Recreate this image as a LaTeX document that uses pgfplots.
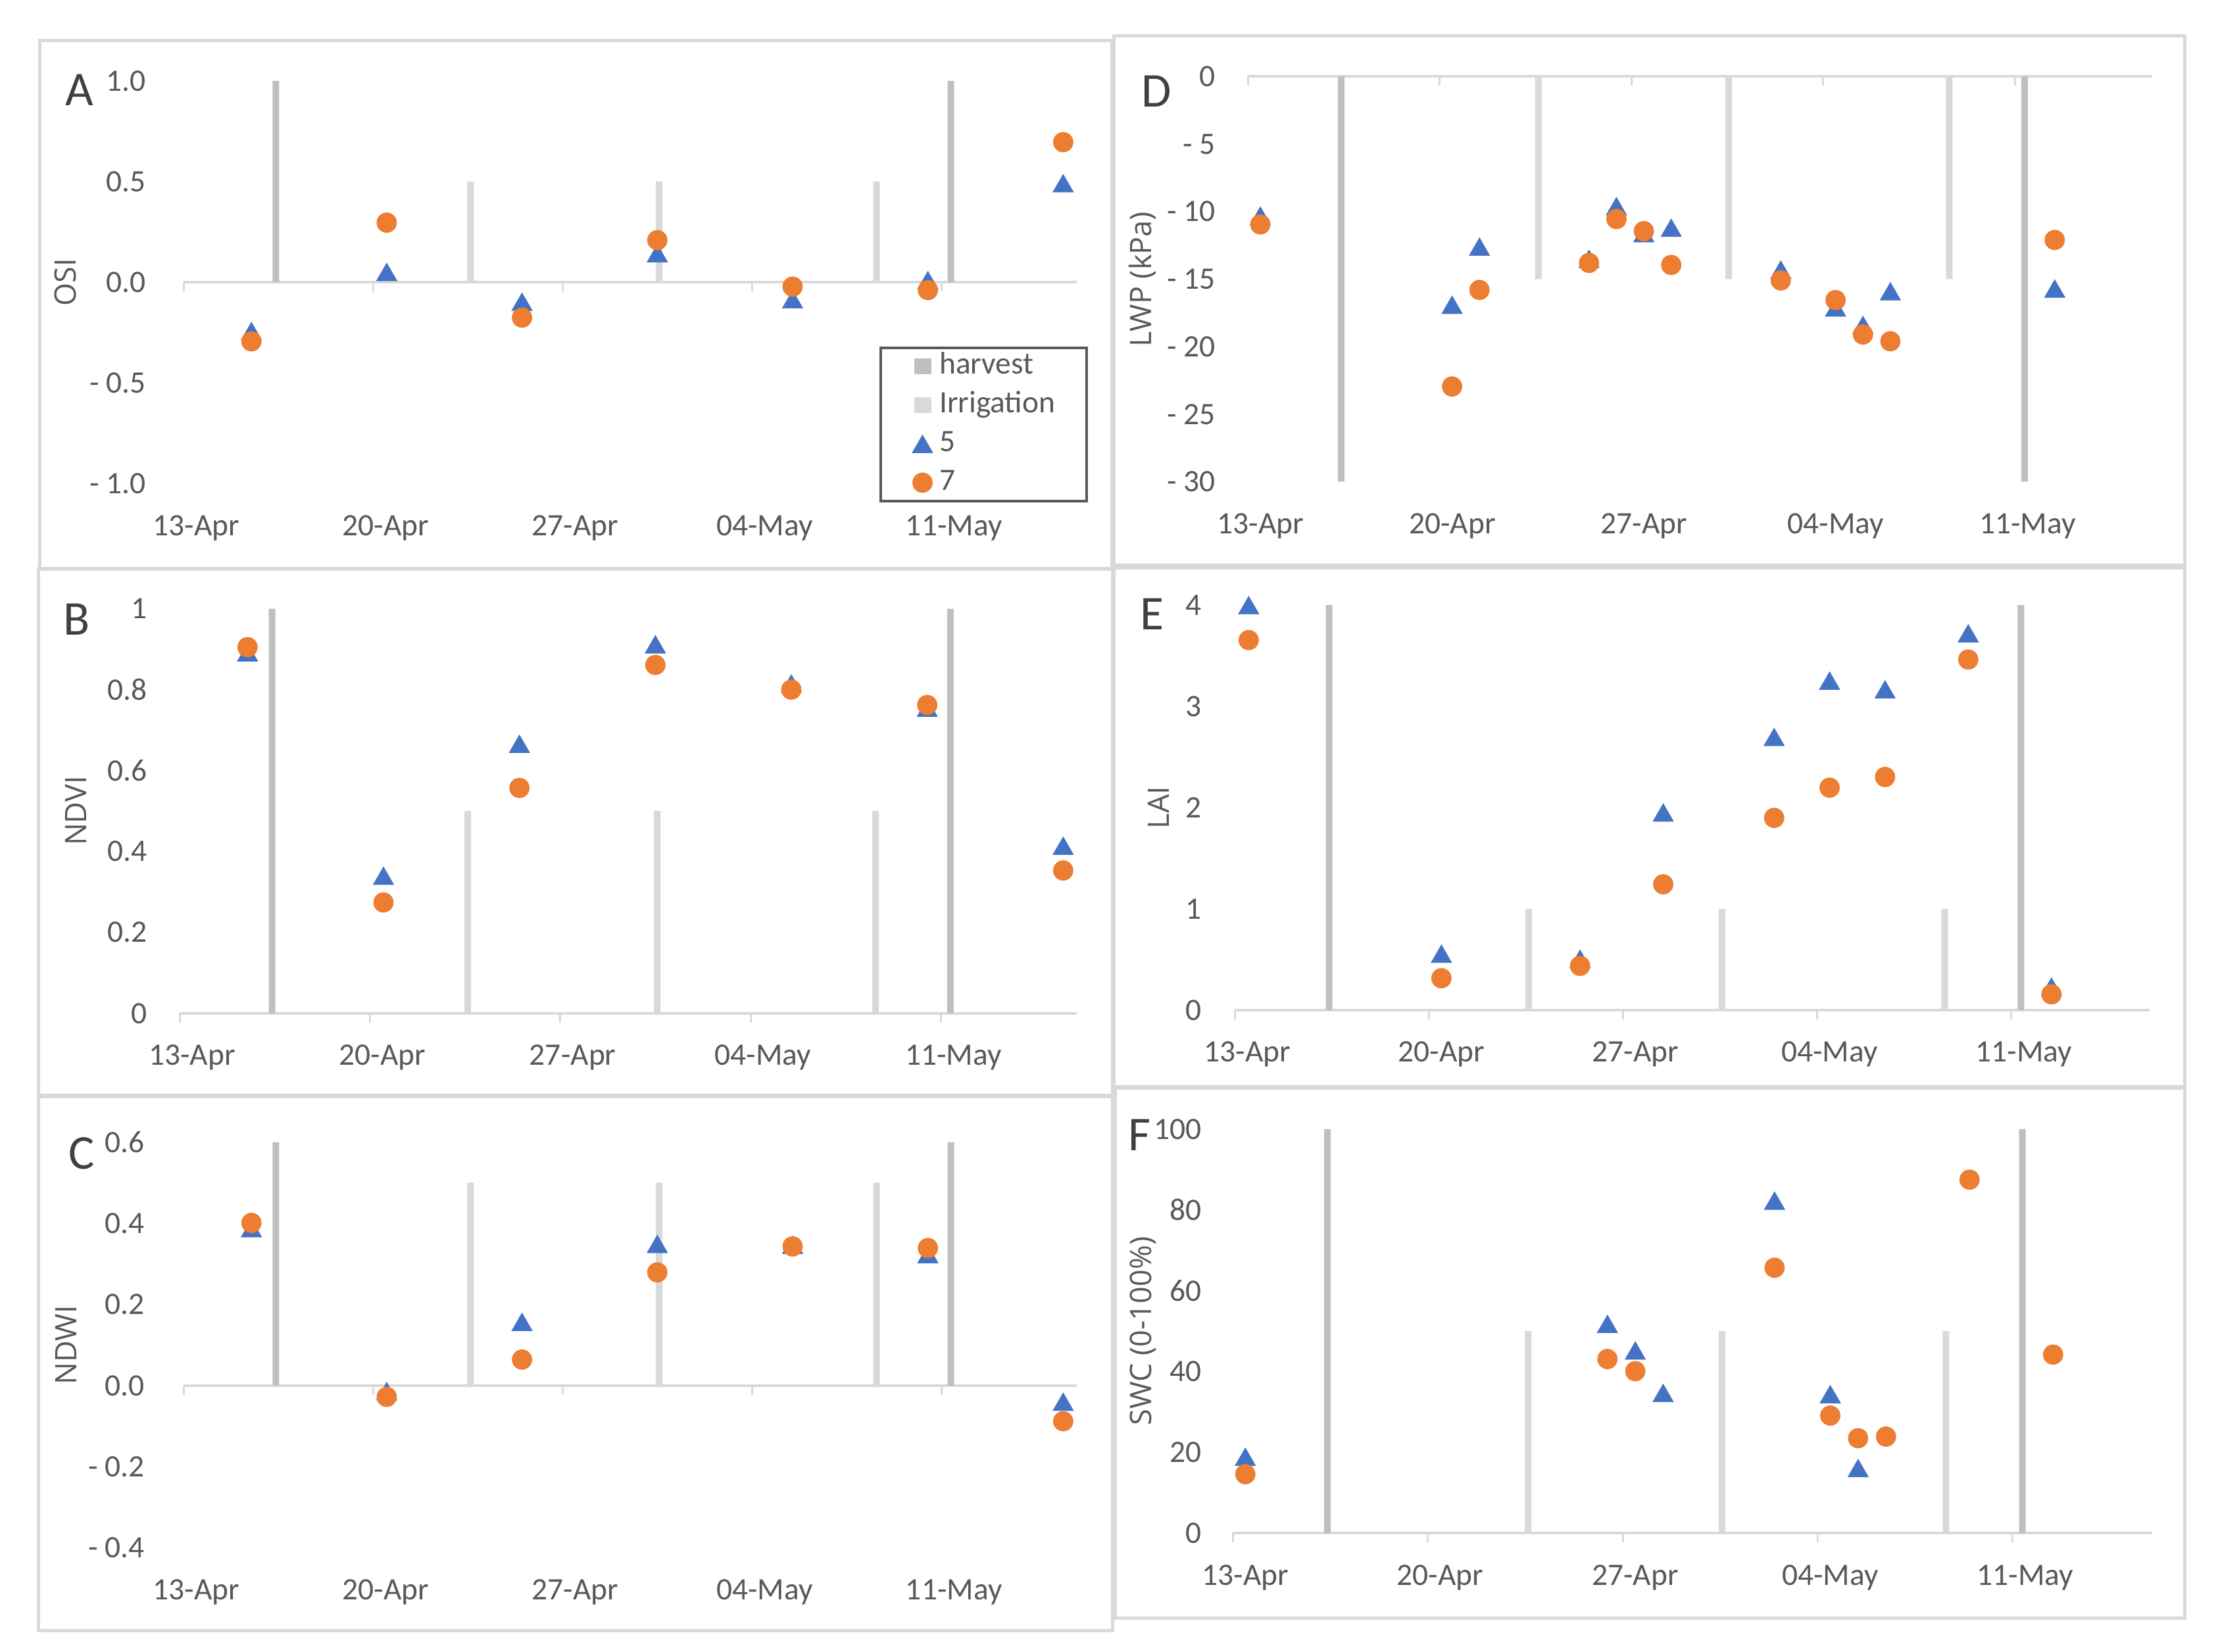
\documentclass[border=0pt]{standalone}
\usepackage{fontspec}
\setmainfont{Carlito}
\newfontfamily\labfont{Open Sans}
\usepackage{pgfplots}
\pgfplotsset{compat=1.18}

\definecolor{tickc}{HTML}{595959}
\definecolor{axc}{HTML}{D9D9D9}
\definecolor{harvc}{HTML}{BFBFBF}
\definecolor{irrc}{HTML}{D9D9D9}
\definecolor{blue5}{HTML}{4472C4}
\definecolor{orange7}{HTML}{ED7D31}
\definecolor{boxc}{HTML}{D9D9D9}
\definecolor{legc}{HTML}{595959}
\definecolor{letc}{HTML}{404040}

\newcommand\tickfont{\fontsize{13.5pt}{16pt}\selectfont}
\newcommand\letfont{\fontsize{21pt}{25pt}\selectfont}

% 1 px of the reference = 0.01cm
\pgfplotsset{
  panel/.style={scale only axis, clip=false, xmin=0, xmax=33,
    axis line style={draw=none}, tick style={draw=none},
    xtick={0,7,14,21,28}, xticklabels={13-Apr,20-Apr,27-Apr,04-May,11-May},
    xticklabel style={anchor=base, yshift=-0.79cm, xshift=0.19cm, font=\tickfont, text=tickc},
    yticklabel style={anchor=east, inner sep=0pt, font=\tickfont, text=tickc},
    ylabel style={anchor=center, font=\labfont\fontsize{12.8pt}{15pt}\selectfont, text=tickc},
  },
  harv/.style={ybar, bar width=0.1cm, fill=harvc, draw=none},
  irr/.style={ybar, bar width=0.1cm, fill=irrc, draw=none},
  s5/.style={only marks, color=blue5, mark=triangle*, mark size=0.18cm,
    mark options={solid, fill=blue5, line width=0.2pt, yshift=-0.045cm}},
  s7/.style={only marks, color=orange7, mark=*, mark size=0.15cm,
    mark options={solid, fill=orange7, line width=0.2pt}},
  sqleg/.style={legend image code/.code={\fill[#1] (0cm,-0.12cm) rectangle (0.26cm,0.12cm);}},
  mkleg/.style={legend image code/.code={\draw[##1] plot coordinates {(0.13cm,0cm)};}},
}

% axis line at y=0 with short ticks below it
\newcommand\zeroline{%
  \draw[axc, line width=0.04cm] (axis cs:0,0) -- (axis cs:33,0);
  \pgfplotsinvokeforeach{0,7,14,21,28}{\draw[axc, line width=0.03cm]
    (axis cs:##1,0) -- ([yshift=-0.14cm]axis cs:##1,0);}
}

\begin{document}
\begin{tikzpicture}
\fill[white] (0,0) rectangle (33.72,25.12);

% panel frames
\draw[boxc, line width=0.05cm] (0.60,16.46) rectangle (16.90,24.50);
\draw[boxc, line width=0.05cm] (0.58,8.46) rectangle (16.91,16.47);
\draw[boxc, line width=0.05cm] (0.58,0.32) rectangle (16.91,8.44);
\draw[boxc, line width=0.05cm] (16.93,16.52) rectangle (33.21,24.57);
\draw[boxc, line width=0.05cm] (16.93,8.59) rectangle (33.21,16.48);
\draw[boxc, line width=0.05cm] (16.95,0.51) rectangle (33.21,8.57);

% A: OSI
\begin{axis}[panel, at={(2.794cm,17.769cm)}, anchor=south west, width=13.575cm, height=6.119cm,
  ymin=-1, ymax=1, ytick={-1,-0.5,0,0.5,1}, yticklabels={- 1.0,- 0.5,0.0,0.5,1.0},
  yticklabel style={xshift=-0.57cm},
  ylabel={OSI}, ylabel style={at={(axis description cs:-0.1326,0.5)}},
  legend cell align=left,
  legend style={at={(axis description cs:0.7790,0.3401)}, anchor=north west,
    draw=legc, line width=0.04cm, fill=white, font=\tickfont,
    inner xsep=0.48cm, inner ysep=0.04cm, row sep=0.11cm, column sep=0.10cm,
    nodes={inner xsep=0pt, inner ysep=0pt, text height=0.36cm, text depth=0.12cm, text=tickc}}]
\zeroline
\addplot[harv, sqleg=harvc] coordinates {(3.4,1)(28.35,1)};
\addlegendentry{harvest}
\addplot[irr, sqleg=irrc] coordinates {(10.6,0.5)(17.57,0.5)(25.6,0.5)};
\addlegendentry{Irrigation}
\addplot[s5, mkleg]
  coordinates {(2.5,-0.243)(7.5,0.051)(12.5,-0.097)(17.5,0.144)(22.5,-0.085)(27.5,0.010)(32.5,0.492)};
\addlegendentry{5}
\addplot[s7, mkleg]
  coordinates {(2.5,-0.294)(7.5,0.296)(12.5,-0.176)(17.5,0.209)(22.5,-0.022)(27.5,-0.039)(32.5,0.696)};
\addlegendentry{7}
\end{axis}

% B: NDVI
\begin{axis}[panel, at={(2.73cm,9.712cm)}, anchor=south west, width=13.64cm, height=6.152cm,
  ymin=0, ymax=1, ytick={0,0.2,0.4,0.6,0.8,1}, yticklabels={0,0.2,0.4,0.6,0.8,1},
  yticklabel style={xshift=-0.49cm},
  ylabel={NDVI}, ylabel style={at={(axis description cs:-0.1158,0.5)}}]
\zeroline
\addplot[harv] coordinates {(3.4,1)(28.35,1)};
\addplot[irr] coordinates {(10.6,0.5)(17.57,0.5)(25.6,0.5)};
\addplot[s5] coordinates {(2.5,0.892)(7.5,0.340)(12.5,0.666)(17.5,0.912)(22.5,0.815)(27.5,0.755)(32.5,0.414)};
\addplot[s7] coordinates {(2.5,0.905)(7.5,0.274)(12.5,0.557)(17.5,0.861)(22.5,0.800)(27.5,0.762)(32.5,0.353)};
\end{axis}

% C: NDWI
\begin{axis}[panel, at={(2.794cm,1.585cm)}, anchor=south west, width=13.575cm, height=6.167cm,
  ymin=-0.4, ymax=0.6, ytick={-0.4,-0.2,0,0.2,0.4,0.6}, yticklabels={- 0.4,- 0.2,0.0,0.2,0.4,0.6},
  yticklabel style={xshift=-0.59cm},
  ylabel={NDWI}, ylabel style={at={(axis description cs:-0.1319,0.5)}}]
\zeroline
\addplot[harv] coordinates {(3.4,0.6)(28.35,0.6)};
\addplot[irr] coordinates {(10.6,0.5)(17.57,0.5)(25.6,0.5)};
\addplot[s5] coordinates {(2.5,0.388)(7.5,-0.014)(12.5,0.157)(17.5,0.349)(22.5,0.347)(27.5,0.324)(32.5,-0.040)};
\addplot[s7] coordinates {(2.5,0.401)(7.5,-0.028)(12.5,0.064)(17.5,0.279)(22.5,0.343)(27.5,0.339)(32.5,-0.088)};
\end{axis}

% D: LWP
\begin{axis}[panel, at={(18.973cm,17.795cm)}, anchor=south west, width=13.743cm, height=6.161cm,
  ymin=-30, ymax=0, ytick={-30,-25,-20,-15,-10,-5,0},
  yticklabels={- 30,- 25,- 20,- 15,- 10,- 5,0\hspace{0.09cm}},
  yticklabel style={xshift=-0.49cm},
  ylabel={LWP (kPa)}, ylabel style={at={(axis description cs:-0.1164,0.5)}}]
\zeroline
\addplot[harv] coordinates {(3.4,-30)(28.35,-30)};
\addplot[irr] coordinates {(10.6,-15)(17.55,-15)(25.6,-15)};
\addplot[s5] coordinates {(0.45,-10.3)(7.45,-16.9)(8.45,-12.6)(12.45,-13.5)(13.45,-9.6)(14.45,-11.6)
  (15.45,-11.2)(19.45,-14.3)(21.45,-17.1)(22.45,-18.4)(23.45,-15.9)(29.45,-15.7)};
\addplot[s7] coordinates {(0.45,-10.95)(7.45,-22.95)(8.45,-15.8)(12.45,-13.8)(13.45,-10.55)(14.45,-11.45)
  (15.45,-13.95)(19.45,-15.1)(21.45,-16.55)(22.45,-19.1)(23.45,-19.6)(29.45,-12.1)};
\end{axis}

% E: LAI
\begin{axis}[panel, at={(18.773cm,9.76cm)}, anchor=south west, width=13.911cm, height=6.158cm,
  ymin=0, ymax=4, ytick={0,1,2,3,4}, yticklabels={0,1,2,3,4},
  yticklabel style={xshift=-0.50cm},
  ylabel={LAI}, ylabel style={at={(axis description cs:-0.0834,0.5)}}]
\zeroline
\addplot[harv] coordinates {(3.4,4)(28.35,4)};
\addplot[irr] coordinates {(10.6,1)(17.57,1)(25.6,1)};
\addplot[s5] coordinates {(0.5,4.0)(7.45,0.557)(12.45,0.507)(15.45,1.952)(19.45,2.698)(21.45,3.254)
  (23.45,3.168)(26.45,3.722)(29.45,0.232)};
\addplot[s7] coordinates {(0.5,3.655)(7.45,0.315)(12.45,0.437)(15.45,1.243)(19.45,1.899)(21.45,2.197)
  (23.45,2.303)(26.45,3.463)(29.45,0.156)};
\end{axis}

% F: SWC
\begin{axis}[panel, at={(18.742cm,1.807cm)}, anchor=south west, width=13.974cm, height=6.143cm,
  ymin=0, ymax=100, ytick={0,20,40,60,80,100}, yticklabels={0,20,40,60,80,100},
  yticklabel style={xshift=-0.47cm},
  ylabel={SWC (0-100\%)}, ylabel style={at={(axis description cs:-0.0980,0.5)}}]
\zeroline
\addplot[harv] coordinates {(3.4,100)(28.35,100)};
\addplot[irr] coordinates {(10.6,50)(17.57,50)(25.6,50)};
\addplot[s5] coordinates {(0.45,18.9)(13.45,51.8)(14.45,45.2)(15.45,34.7)(19.45,82.3)(21.45,34.4)(22.45,16.1)};
\addplot[s7] coordinates {(0.45,14.6)(13.45,43.1)(14.45,40.1)(19.45,65.7)(21.45,29.1)(22.45,23.5)
  (23.45,23.9)(26.45,87.5)(29.45,44.2)};
\end{axis}

% panel letters
\node[font=\letfont, text=letc, inner sep=0pt] at (1.21,23.75) {A};
\node[font=\letfont, text=letc, inner sep=0pt] at (1.17,15.70) {B};
\node[font=\letfont, text=letc, inner sep=0pt] at (1.24,7.58) {C};
\node[font=\letfont, text=letc, inner sep=0pt] at (17.58,23.73) {D};
\node[font=\letfont, text=letc, inner sep=0pt] at (17.51,15.78) {E};
\node[font=\letfont, text=letc, inner sep=0pt] at (17.32,7.86) {F};
\end{tikzpicture}
\end{document}
